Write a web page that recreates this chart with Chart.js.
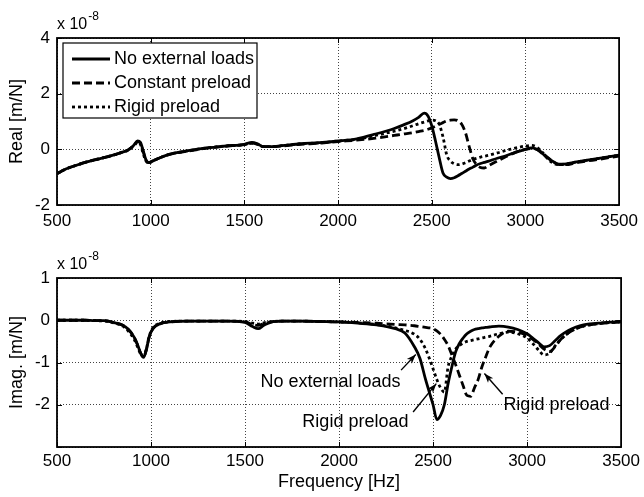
<!DOCTYPE html>
<html>
<head>
<meta charset="utf-8">
<script src="https://cdn.jsdelivr.net/npm/chart.js@4/dist/chart.umd.min.js"></script>
<style>
  html, body { margin: 0; padding: 0; background: #fff; }
  #wrap { position: relative; width: 644px; height: 497px; }
  canvas { position: absolute; left: 0; }
  #realChart { top: 0; }
  #imagChart { top: 250px; }
</style>
</head>
<body>
<div id="wrap">
  <canvas id="realChart" width="644" height="250"></canvas>
  <canvas id="imagChart" width="644" height="247"></canvas>
</div>
<script>
// frequency samples [Hz], shared by all series
const freq = [500, 550, 600, 650, 700, 750, 800, 850, 880, 910, 930, 945, 960, 975, 990, 1010, 1050, 1100,
  1200, 1300, 1400, 1500, 1540, 1570, 1600, 1650, 1700, 1800, 1900, 2000, 2100, 2200, 2300, 2350, 2400,
  2430, 2460, 2480, 2500, 2520, 2540, 2560, 2580, 2600, 2620, 2640, 2660, 2680, 2700, 2720, 2740, 2760,
  2780, 2800, 2850, 2900, 2950, 3000, 3030, 3060, 3090, 3120, 3150, 3180, 3220, 3260, 3300, 3400, 3500];

// real part, x 1e-8 m/N
const realNoLoad = [-0.87, -0.7, -0.58, -0.47, -0.38, -0.3, -0.21, -0.1, -0.02, 0.15, 0.3, 0.25, -0.05, -0.38, -0.48, -0.42, -0.3, -0.18,
  -0.05, 0.05, 0.12, 0.18, 0.25, 0.2, 0.1, 0.1, 0.13, 0.2, 0.24, 0.3, 0.38, 0.55, 0.75, 0.88, 1.03,
  1.15, 1.3, 1.2, 0.85, 0.3, -0.3, -0.85, -1.0, -1.05, -1.02, -0.95, -0.87, -0.79, -0.71, -0.64, -0.56, -0.51,
  -0.47, -0.43, -0.32, -0.22, -0.1, 0.0, 0.05, 0.0, -0.15, -0.32, -0.45, -0.53, -0.52, -0.47, -0.42, -0.32, -0.21];
const realConstant = [-0.87, -0.7, -0.58, -0.47, -0.38, -0.3, -0.21, -0.1, -0.02, 0.14, 0.28, 0.22, -0.08, -0.4, -0.48, -0.42, -0.3, -0.18,
  -0.06, 0.04, 0.11, 0.17, 0.22, 0.18, 0.1, 0.1, 0.12, 0.18, 0.22, 0.28, 0.33, 0.4, 0.5, 0.55, 0.6,
  0.64, 0.68, 0.72, 0.77, 0.83, 0.9, 0.96, 1.02, 1.05, 1.06, 1.03, 0.9, 0.6, 0.1, -0.35, -0.55, -0.65,
  -0.67, -0.6, -0.42, -0.25, -0.1, 0.0, 0.03, 0.0, -0.12, -0.3, -0.45, -0.55, -0.55, -0.5, -0.45, -0.35, -0.24];
const realRigid = [-0.87, -0.7, -0.58, -0.47, -0.38, -0.3, -0.21, -0.1, -0.03, 0.12, 0.25, 0.18, -0.15, -0.42, -0.48, -0.42, -0.3, -0.18,
  -0.05, 0.05, 0.12, 0.17, 0.22, 0.18, 0.1, 0.1, 0.13, 0.2, 0.23, 0.3, 0.36, 0.5, 0.65, 0.74, 0.85,
  0.92, 0.98, 1.02, 1.05, 1.03, 0.9, 0.45, -0.2, -0.42, -0.52, -0.55, -0.53, -0.48, -0.42, -0.36, -0.32, -0.28,
  -0.25, -0.22, -0.13, -0.03, 0.05, 0.12, 0.14, 0.08, -0.1, -0.35, -0.5, -0.55, -0.52, -0.47, -0.42, -0.32, -0.21];

// imaginary part, x 1e-8 m/N
const imagNoLoad = [0, 0, 0, 0, -0.01, -0.01, -0.05, -0.12, -0.22, -0.4, -0.6, -0.78, -0.88, -0.7, -0.4, -0.2, -0.08, -0.04,
  -0.02, -0.02, -0.02, -0.05, -0.15, -0.2, -0.12, -0.03, -0.02, -0.02, -0.03, -0.04, -0.07, -0.11, -0.2, -0.3, -0.62,
  -0.9, -1.4, -1.7, -2.0, -2.35, -2.25, -2.0, -1.5, -1.1, -0.75, -0.55, -0.42, -0.32, -0.26, -0.22, -0.2, -0.18,
  -0.17, -0.16, -0.14, -0.16, -0.22, -0.32, -0.42, -0.53, -0.63, -0.6, -0.48, -0.36, -0.24, -0.16, -0.11, -0.06, -0.03];
const imagConstant = [0, 0, 0, 0, -0.01, -0.01, -0.05, -0.12, -0.22, -0.4, -0.6, -0.78, -0.87, -0.7, -0.4, -0.2, -0.08, -0.04,
  -0.02, -0.02, -0.02, -0.04, -0.1, -0.12, -0.08, -0.03, -0.02, -0.02, -0.03, -0.04, -0.05, -0.07, -0.1, -0.11, -0.13,
  -0.15, -0.17, -0.18, -0.2, -0.25, -0.33, -0.45, -0.6, -0.82, -1.05, -1.3, -1.55, -1.78, -1.8, -1.6, -1.4, -1.1,
  -0.87, -0.65, -0.38, -0.26, -0.28, -0.36, -0.45, -0.56, -0.68, -0.74, -0.62, -0.45, -0.3, -0.2, -0.14, -0.07, -0.04];
const imagRigid = [0, 0, 0, 0, -0.01, -0.02, -0.06, -0.14, -0.26, -0.45, -0.65, -0.8, -0.85, -0.68, -0.38, -0.18, -0.07, -0.03,
  -0.02, -0.02, -0.02, -0.03, -0.07, -0.09, -0.06, -0.03, -0.02, -0.02, -0.03, -0.04, -0.06, -0.1, -0.18, -0.24, -0.33,
  -0.45, -0.68, -0.9, -1.15, -1.4, -1.6, -1.7, -1.1, -0.85, -0.68, -0.6, -0.54, -0.5, -0.48, -0.46, -0.44, -0.42,
  -0.4, -0.38, -0.32, -0.28, -0.32, -0.42, -0.55, -0.7, -0.82, -0.78, -0.6, -0.45, -0.3, -0.2, -0.14, -0.07, -0.04];

const seriesNames = ["No external loads", "Constant preload", "Rigid preload"];
const freqTicks = [500, 1000, 1500, 2000, 2500, 3000, 3500];
const realTicks = [-2, 0, 2, 4];
const imagTicks = [-3, -2, -1, 0, 1];

// callouts in the lower plot (data coordinates)
const imagNotes = [
  { text: "No external loads", at: [1955, -1.47], from: [2330, -1.18], to: [2408, -0.81] },
  { text: "Rigid preload", at: [2087, -2.41], from: [2394, -2.17], to: [2517, -1.5] },
  { text: "Rigid preload", at: [3156, -2.0], from: [2870, -1.75], to: [2773, -1.26] }
];

Chart.defaults.font.family = "'Liberation Sans', Arial, Helvetica, sans-serif";
Chart.defaults.color = "#000";

const lineStyles = [
  { borderDash: [] },
  { borderDash: [8, 4] },
  { borderDash: [3, 3] }
];

function makeDatasets(arrays) {
  return arrays.map((arr, i) => ({
    label: seriesNames[i],
    data: freq.map((f, k) => ({ x: f, y: arr[k] })),
    borderColor: "#000",
    borderWidth: 2.8,
    borderDash: lineStyles[i].borderDash,
    pointRadius: 0,
    cubicInterpolationMode: "monotone",
    fill: false
  }));
}

function scaleX(axisHeight, pad, title) {
  return {
    type: "linear", min: 500, max: 3500,
    afterBuildTicks: s => { s.ticks = freqTicks.map(v => ({ value: v })); },
    afterFit: s => { s.height = axisHeight; },
    ticks: { font: { size: 17 }, padding: pad, maxRotation: 0, autoSkip: false, callback: v => String(v) },
    grid: { color: "#444", lineWidth: 1, drawTicks: false },
    border: { display: false, dash: [1, 2] },
    title: { display: !!title, text: title || "", font: { size: 18 }, padding: { top: 0, bottom: 4.5 } }
  };
}

function scaleY(min, max, tickVals, title, hideFirst) {
  return {
    type: "linear", min: min, max: max,
    afterBuildTicks: s => { s.ticks = tickVals.map(v => ({ value: v })); },
    afterFit: s => { s.width = 57; },
    ticks: {
      font: { size: 17 }, padding: 7,
      callback: v => (hideFirst && v === min) ? "" : String(v)
    },
    grid: { color: "#444", lineWidth: 1, drawTicks: false },
    border: { display: false, dash: [1, 2] },
    title: { display: true, text: title, font: { size: 18 }, padding: { top: 6, bottom: 0 } }
  };
}

// box, inward ticks and the exponent label
const framePlugin = {
  id: "frame",
  afterDraw(chart) {
    const { ctx, chartArea: a, scales } = chart;
    ctx.save();
    ctx.strokeStyle = "#000";
    ctx.lineWidth = 1;
    ctx.beginPath();
    scales.x.ticks.forEach(t => {
      const px = Math.round(scales.x.getPixelForValue(t.value)) + 0.5;
      ctx.moveTo(px, a.bottom); ctx.lineTo(px, a.bottom - 5);
      ctx.moveTo(px, a.top); ctx.lineTo(px, a.top + 5);
    });
    scales.y.ticks.forEach(t => {
      const py = Math.round(scales.y.getPixelForValue(t.value)) + 0.5;
      ctx.moveTo(a.left, py); ctx.lineTo(a.left + 5, py);
      ctx.moveTo(a.right, py); ctx.lineTo(a.right - 5, py);
    });
    ctx.stroke();
    ctx.lineWidth = 1.8;
    ctx.strokeRect(a.left, a.top, a.right - a.left, a.bottom - a.top);

    ctx.fillStyle = "#000";
    ctx.textBaseline = "middle";
    ctx.textAlign = "left";
    ctx.font = "16px 'Liberation Sans', Arial, sans-serif";
    const base = "x 10";
    ctx.fillText(base, a.left, a.top - 13);
    const w = ctx.measureText(base).width;
    ctx.font = "12px 'Liberation Sans', Arial, sans-serif";
    ctx.fillText("-8", a.left + w + 1, a.top - 21);
    ctx.restore();
  }
};

// legend box drawn inside the upper axes
const legendPlugin = {
  id: "innerLegend",
  afterDraw(chart) {
    const { ctx, chartArea: a } = chart;
    const x0 = a.left + 6, y0 = a.top + 5, w = 194, h = 75;
    ctx.save();
    ctx.fillStyle = "#fff";
    ctx.fillRect(x0, y0, w, h);
    ctx.strokeStyle = "#000";
    ctx.lineWidth = 1.2;
    ctx.strokeRect(x0, y0, w, h);
    ctx.font = "18px 'Liberation Sans', Arial, sans-serif";
    ctx.textBaseline = "middle";
    ctx.fillStyle = "#000";
    chart.data.datasets.forEach((ds, i) => {
      const y = y0 + 16 + i * 24;
      ctx.beginPath();
      ctx.lineWidth = ds.borderWidth;
      ctx.setLineDash(ds.borderDash);
      ctx.moveTo(x0 + 9, y); ctx.lineTo(x0 + 47, y);
      ctx.stroke();
      ctx.setLineDash([]);
      ctx.fillText(ds.label, x0 + 51, y);
    });
    ctx.restore();
  }
};

// text callouts with arrows in the lower axes
const notesPlugin = {
  id: "notes",
  afterDraw(chart) {
    const { ctx, scales: { x, y } } = chart;
    ctx.save();
    ctx.fillStyle = "#000";
    ctx.strokeStyle = "#000";
    ctx.font = "18px 'Liberation Sans', Arial, sans-serif";
    ctx.textAlign = "center";
    ctx.textBaseline = "middle";
    imagNotes.forEach(n => {
      ctx.fillText(n.text, x.getPixelForValue(n.at[0]), y.getPixelForValue(n.at[1]));
      const x1 = x.getPixelForValue(n.from[0]), y1 = y.getPixelForValue(n.from[1]);
      const x2 = x.getPixelForValue(n.to[0]), y2 = y.getPixelForValue(n.to[1]);
      ctx.lineWidth = 1.4;
      ctx.beginPath();
      ctx.moveTo(x1, y1); ctx.lineTo(x2, y2);
      ctx.stroke();
      const ang = Math.atan2(y2 - y1, x2 - x1);
      ctx.beginPath();
      ctx.moveTo(x2, y2);
      ctx.lineTo(x2 - 10 * Math.cos(ang - 0.35), y2 - 10 * Math.sin(ang - 0.35));
      ctx.lineTo(x2 - 7 * Math.cos(ang), y2 - 7 * Math.sin(ang));
      ctx.lineTo(x2 - 10 * Math.cos(ang + 0.35), y2 - 10 * Math.sin(ang + 0.35));
      ctx.closePath();
      ctx.fill();
    });
    ctx.restore();
  }
};

const common = {
  responsive: false,
  animation: false,
  devicePixelRatio: 1,
  plugins: { legend: { display: false }, tooltip: { enabled: false } }
};

new Chart(document.getElementById("realChart").getContext("2d"), {
  type: "line",
  data: { datasets: makeDatasets([realNoLoad, realConstant, realRigid]) },
  options: {
    ...common,
    layout: { padding: { top: 38, right: 20, left: 0, bottom: 0 } },
    scales: {
      x: scaleX(45, 6, null),
      y: scaleY(-2, 4, realTicks, "Real [m/N]", false)
    }
  },
  plugins: [framePlugin, legendPlugin]
});

new Chart(document.getElementById("imagChart").getContext("2d"), {
  type: "line",
  data: { datasets: makeDatasets([imagNoLoad, imagConstant, imagRigid]) },
  options: {
    ...common,
    layout: { padding: { top: 28, right: 20, left: 0, bottom: 0 } },
    scales: {
      x: scaleX(50, 4, "Frequency [Hz]"),
      y: scaleY(-3, 1, imagTicks, "Imag. [m/N]", true)
    }
  },
  plugins: [framePlugin, notesPlugin]
});
</script>
</body>
</html>
